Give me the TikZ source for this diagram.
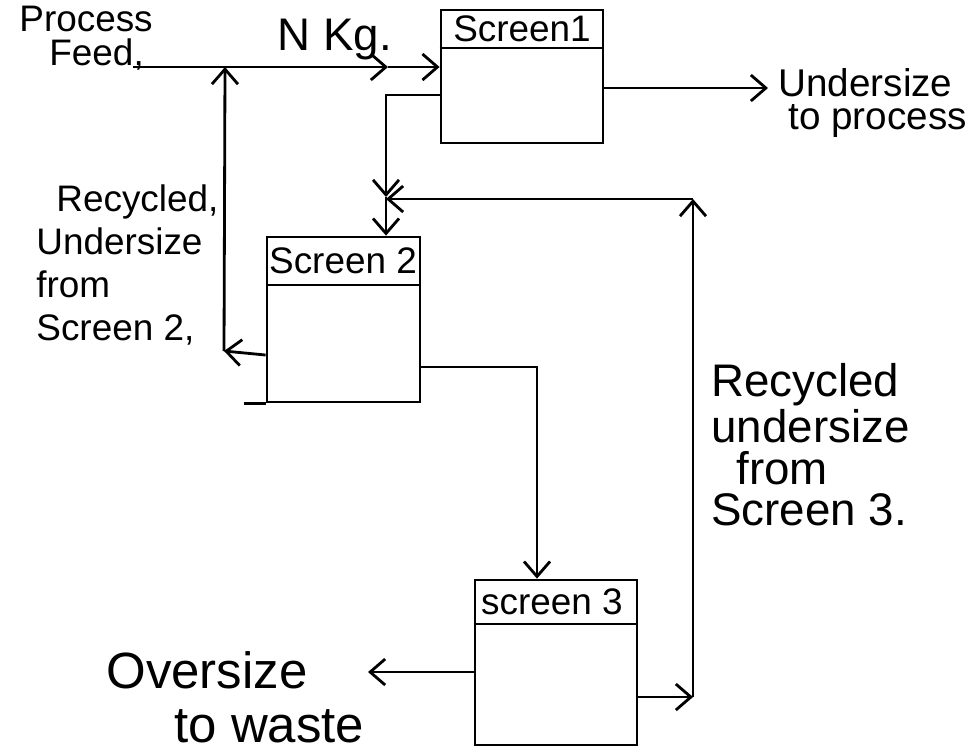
\documentclass[tikz,border=0pt]{standalone}
\usepackage{fontspec}
\setmainfont{Liberation Sans}
\usetikzlibrary{arrows.meta}
\begin{document}
\begin{tikzpicture}[x=0.1mm,y=-0.1mm,
  line width=0.8pt,
  flow/.style={-{Straight Barb[length=1.5mm,width=2.6mm]}},
  screenbox/.style={draw, rectangle, inner sep=0pt, line width=0.8pt},
  head/.style={font=\fontsize{10.5}{12}\selectfont, inner sep=0pt},
  lbl/.style={inner sep=0pt, align=left, anchor=west},
]
\useasboundingbox (0,0) rectangle (967,749);

% screens
\node[screenbox, minimum width=16.2mm, minimum height=13.3mm] (s1) at (522,76.5) {};
\node[screenbox, minimum width=15.3mm, minimum height=16.5mm] (s2) at (343.5,319.5) {};
\node[screenbox, minimum width=16.2mm, minimum height=16.5mm] (s3) at (556,662.5) {};
\draw (s1.west |- 0,48) -- (s1.east |- 0,48);
\draw (s2.west |- 0,285) -- (s2.east |- 0,285);
\draw (s3.west |- 0,624) -- (s3.east |- 0,624);
\draw (s2.south west) -- ++(-22,0);
\node[head] (h1) at (522,29) {Screen1};
\node[head] (h2) at (343,261) {Screen 2};
\node[head] (h3) at (552,602) {screen 3};

% feed
\coordinate (feedstart) at (133,67);
\coordinate (J1) at (225,67);
\coordinate (m1) at (388,67);
\draw (feedstart) -- (J1);
\draw[flow] (J1) -- (m1);
\draw[flow] (m1) -- (s1.west |- m1);

% recycle from screen 2
\coordinate (L1) at (224,351);
\draw[flow] (s2.west |- 0,355) -- (L1);
\draw[flow] (L1) -- (J1);

% screen 1 oversize to screen 2
\coordinate (c1) at (386,95);
\coordinate (J2) at (386,197);
\draw[flow] (s1.west |- c1) -- (c1) -- (J2);
\draw[flow] (J2) -- (s2.north -| J2);

% recycle from screen 3
\coordinate (R2) at (693,697);
\coordinate (R1) at (693,199);
\draw[flow] (s3.east |- R2) -- (R2);
\draw[flow] (R2) -- (R1);
\draw[flow] (R1) -- (J2 |- R1);

% screen 2 to screen 3
\coordinate (c2) at (537,367);
\draw[flow] (s2.east |- c2) -- (c2) -- (s3.north -| c2);

% oversize to waste
\coordinate (w1) at (368,672);
\draw[flow] (s3.west |- w1) -- (w1);

% undersize to process
\coordinate (u1) at (768,88);
\draw[flow] (s1.east |- u1) -- (u1);

% labels
\node[lbl, font=\fontsize{10.5}{9.6}\selectfont] (tfeed) at (18,38) {Process\\\hspace{3mm}Feed,};
\node[font=\fontsize{13}{14}\selectfont, inner sep=0pt] (tkg) at (335,40) {N Kg.};
\node[lbl, font=\fontsize{11}{9.5}\selectfont] (tund) at (777,103) {Undersize\\\hspace{1mm}to process};
\node[lbl, font=\fontsize{10.5}{12.2}\selectfont] (trec2) at (35,265) {\hspace{2mm}Recycled,\\Undersize\\from\\Screen 2,};
\node[lbl, font=\fontsize{13}{11.8}\selectfont] (trec3) at (710,445) {Recycled\\undersize\\\hspace{2.5mm}from\\Screen 3.};
\node[lbl, font=\fontsize{14.5}{15.3}\selectfont] (twaste) at (105,697) {Oversize\\\hspace{6.8mm}to waste};
\end{tikzpicture}
\end{document}
